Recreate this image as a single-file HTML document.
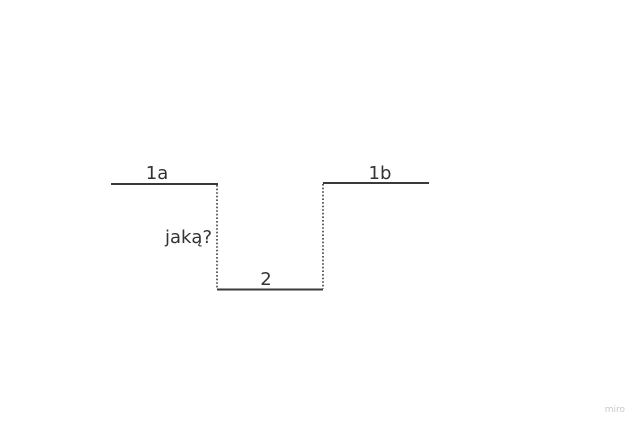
<!DOCTYPE html>
<html><head><style>
body{margin:0;background:#fff;}
svg{display:block;}
text{font-family:"DejaVu Sans","Liberation Sans",sans-serif;fill:#333;}
</style></head><body>
<svg width="640" height="426" viewBox="0 0 640 426">
<g stroke="#3a3a3a" stroke-width="2" fill="none">
<line x1="111" y1="184" x2="218" y2="184"/>
<line x1="217" y1="289.5" x2="323" y2="289.5"/>
<line x1="323" y1="183" x2="429" y2="183"/>
</g>
<g stroke="#3a3a3a" stroke-width="1.6" stroke-dasharray="1.6,2" fill="none">
<line x1="217" y1="185" x2="217" y2="289"/>
<line x1="323" y1="184" x2="323" y2="289"/>
</g>
<text x="157" y="179" font-size="18" text-anchor="middle">1a</text>
<text x="380" y="179" font-size="18" text-anchor="middle">1b</text>
<text x="266" y="285" font-size="18" text-anchor="middle">2</text>
<text x="212" y="243" font-size="18" text-anchor="end">jaką?</text>
<text x="625" y="412" font-size="9" text-anchor="end" style="fill:#c8c8c8">miro</text>
</svg>
</body></html>
